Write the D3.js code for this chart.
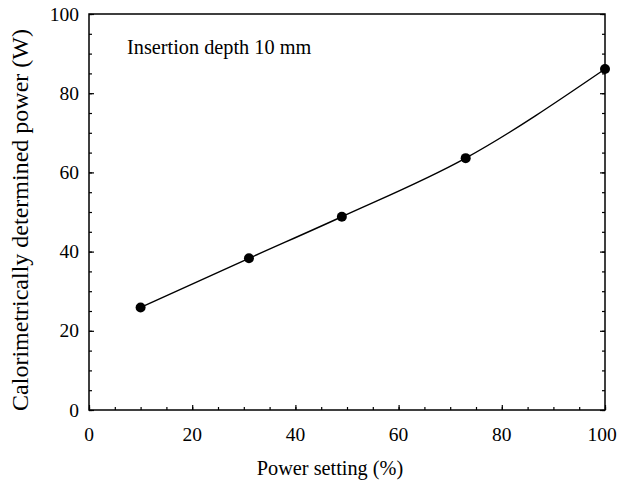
<!DOCTYPE html>
<html>
<head>
<meta charset="utf-8">
<script src="https://cdn.jsdelivr.net/npm/d3@7"></script>
<style>
  body { margin: 0; background: #fff; }
  svg text { font-family: "Times New Roman", Times, "Liberation Serif", Tinos, "DejaVu Serif", serif; }
</style>
</head>
<body>
<div class="chart"></div>
<script>
// data
var powerSetting = [10, 31, 49, 73, 100];
var measuredPower = [25.9, 38.3, 48.8, 63.6, 86.1];
var xTicks = [0, 20, 40, 60, 80, 100];
var yTicks = [0, 20, 40, 60, 80, 100];

var svgWidth = 617;
var svgHeight = 487;

var margin = { top: 14, right: 12, bottom: 77, left: 89 };
var width = svgWidth - margin.left - margin.right;
var height = svgHeight - margin.top - margin.bottom;

var svg = d3.select(".chart")
  .append("svg")
  .attr("width", svgWidth)
  .attr("height", svgHeight);

var chartGroup = svg.append("g")
  .attr("transform", `translate(${margin.left}, ${margin.top})`);

var x = d3.scaleLinear().domain([0, 100]).range([0, width]);
var y = d3.scaleLinear().domain([0, 100]).range([height, 0]);

var minor = d3.range(0, 101, 5);

// inward ticks, no labels (labels are drawn separately)
function tickAxis(axis, len, vals) {
  return axis.tickValues(vals).tickSize(len).tickFormat("");
}

chartGroup.append("g")
  .attr("transform", `translate(0, ${height})`)
  .call(tickAxis(d3.axisTop(x), 3, minor));
chartGroup.append("g")
  .attr("transform", `translate(0, ${height})`)
  .call(tickAxis(d3.axisTop(x), 5, xTicks));
chartGroup.append("g")
  .call(tickAxis(d3.axisRight(y), 3, minor));
chartGroup.append("g")
  .call(tickAxis(d3.axisRight(y), 5, yTicks));
chartGroup.append("g")
  .attr("transform", `translate(${width}, 0)`)
  .call(tickAxis(d3.axisLeft(y), 3, minor));
chartGroup.append("g")
  .attr("transform", `translate(${width}, 0)`)
  .call(tickAxis(d3.axisLeft(y), 5, yTicks));

chartGroup.selectAll(".domain").remove();
chartGroup.selectAll(".tick line").attr("stroke", "#000").attr("stroke-width", 1.2);

// frame
chartGroup.append("rect")
  .attr("width", width)
  .attr("height", height)
  .attr("fill", "none")
  .attr("stroke", "#000")
  .attr("stroke-width", 1.5);

// tick labels
chartGroup.selectAll(".xlab")
  .data(xTicks)
  .enter()
  .append("text")
  .attr("x", d => x(d))
  .attr("dx", d => d === 100 ? -3 : 0)
  .attr("y", height + 31)
  .attr("text-anchor", "middle")
  .attr("font-size", "19.5px")
  .text(d => d);

chartGroup.selectAll(".ylab")
  .data(yTicks)
  .enter()
  .append("text")
  .attr("x", -10)
  .attr("y", d => y(d) + 6.5)
  .attr("text-anchor", "end")
  .attr("font-size", "19.5px")
  .text(d => d);

// curve and points
var points = powerSetting.map((p, i) => [p, measuredPower[i]]);

var line = d3.line()
  .x(d => x(d[0]))
  .y(d => y(d[1]))
  .curve(d3.curveMonotoneX);

chartGroup.append("path")
  .datum(points)
  .attr("d", line)
  .attr("fill", "none")
  .attr("stroke", "#000")
  .attr("stroke-width", 1.4);

chartGroup.selectAll("circle")
  .data(points)
  .enter()
  .append("circle")
  .attr("cx", d => x(d[0]))
  .attr("cy", d => y(d[1]))
  .attr("r", 5)
  .attr("fill", "#000");

// annotation
chartGroup.append("text")
  .attr("x", 38)
  .attr("y", 40)
  .attr("font-size", "20.3px")
  .text("Insertion depth 10 mm");

// axis labels
chartGroup.append("text")
  .attr("transform", "rotate(-90)")
  .attr("x", -206)
  .attr("y", -61)
  .attr("text-anchor", "middle")
  .attr("font-size", "24px")
  .text("Calorimetrically determined power (W)");

chartGroup.append("text")
  .attr("x", 241)
  .attr("y", height + 65)
  .attr("text-anchor", "middle")
  .attr("font-size", "20.3px")
  .text("Power setting (%)");
</script>
</body>
</html>
